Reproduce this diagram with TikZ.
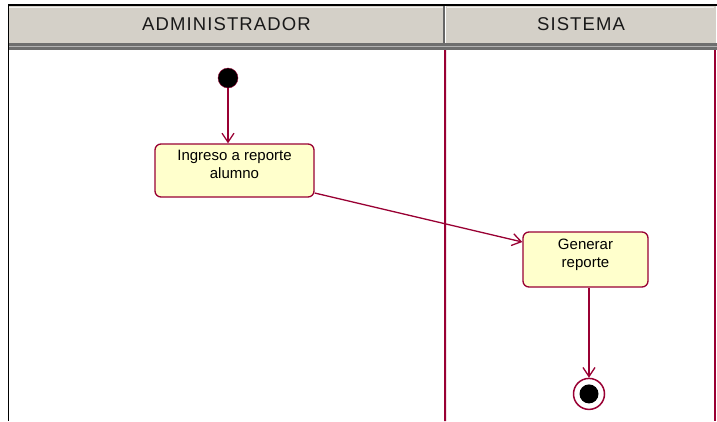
\documentclass[tikz,border=0pt]{standalone}
\usepackage{fontspec}
\setmainfont{Liberation Sans}
\usetikzlibrary{positioning, arrows.meta}
\definecolor{umlred}{RGB}{153,0,51}
\definecolor{actfill}{RGB}{255,255,204}
\definecolor{hdrgray}{RGB}{212,208,200}
\definecolor{hdrdark}{RGB}{110,110,110}

\begin{document}
\begin{tikzpicture}[x=1pt, y=-1pt,
    lanehead/.style={fill=hdrgray, inner sep=0pt, minimum height=37pt, text=black!90,
      font=\fontsize{18.5}{20}\selectfont\addfontfeature{LetterSpace=6}},
    actividad/.style={draw=umlred, fill=actfill, line width=1.3pt, rounded corners=6pt,
      align=center, inner sep=0pt, text depth=12pt, font=\fontsize{15}{18.5}\selectfont},
    inicio/.style={circle, fill=black, draw=umlred, inner sep=0pt, minimum size=20pt},
    fin/.style={circle, draw=umlred, line width=1.5pt, fill=white, inner sep=0pt, minimum size=31pt,
      path picture={\fill[black] (path picture bounding box.center) circle (9.5pt);}},
    flujo/.style={draw=umlred, line width=1.3pt, -{Straight Barb[length=9pt,width=12pt]}},
    carril/.style={draw=umlred, line width=2pt},
  ]
    \useasboundingbox (0,0) rectangle (717,421);

    % cabecera de carriles
    \node[lanehead, minimum width=435pt] (hadmin) at (226.5,24.5) {ADMINISTRADOR};
    \node[lanehead, minimum width=270pt] (hsis) at (581,24.5) {SISTEMA};
    \fill[hdrdark] (9,43) rectangle (717,50);
    \draw[gray!60, line width=1pt] (9,46.5) -- (717,46.5);
    \draw[white!70!hdrgray, line width=1pt] (9,7.5) -- (443,7.5) (447,7.5) -- (714,7.5);
    \draw[black!60, line width=2pt] (444,5) -- (444,43);
    \draw[black, line width=1.2pt] (8,5) -- (717,5);
    \draw[black, line width=1.5pt] (8.5,5) -- (8.5,421);

    % carriles
    \draw[carril] (hadmin.south east) ++(1,7) -- (445,421);
    \draw[carril] (714.5,50) -- (714.5,421);

    % actividades
    \node[inicio] (ini) at (228,78) {};
    \node[actividad, minimum width=159pt, minimum height=53pt] (a1) at (234.5,170.5) {Ingreso a reporte\\alumno};
    \node[actividad, minimum width=125pt, minimum height=55pt] (a2) at (585.5,259.5) {Generar\\reporte};
    \node[fin, below=90pt of a2, xshift=3.5pt] (fin) {};

    \draw[flujo] (ini) -- (a1.north -| ini);
    \draw[flujo] ([yshift=-22.5pt]a1.east) -- ([yshift=17.5pt]a2.west);
    \draw[flujo] (a2.south -| fin) -- (fin);
  \end{tikzpicture}
\end{document}
